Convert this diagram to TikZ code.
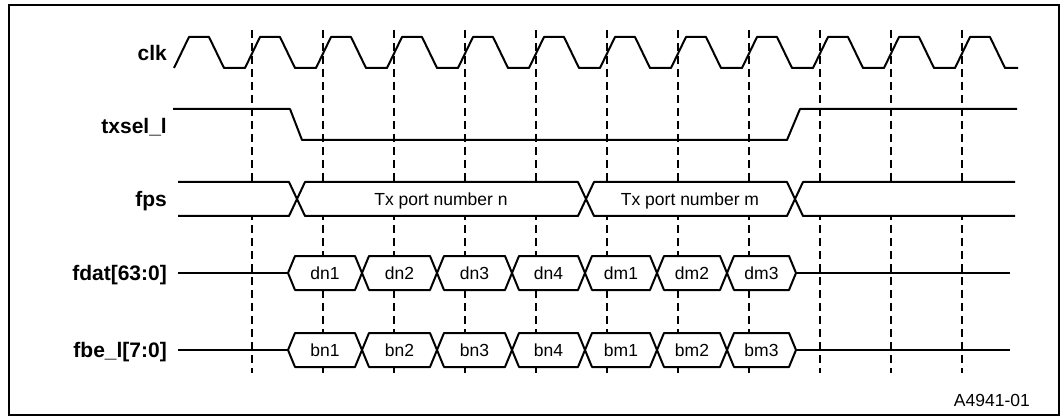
\documentclass[tikz,border=0pt]{standalone}
\usepackage{fontspec}
\setmainfont{Liberation Sans}
\begin{document}
\begin{tikzpicture}[x=1pt,y=-1pt,
  sig/.style={line width=2pt,line join=round},
  busseg/.style={line width=2pt,line join=round,fill=white},
  guide/.style={line width=1.2pt,dash pattern=on 8pt off 5pt},
  lbl/.style={anchor=base east,inner sep=0pt,font=\fontsize{21}{24}\selectfont\bfseries},
  bustxt/.style={anchor=base,inner sep=0pt,font=\fontsize{17.5}{20}\selectfont}]
\useasboundingbox (0,0) rectangle (1061,417);
% frame
\draw[line width=2pt] (9,5) rectangle (1059,415);
% dashed guide lines
\foreach \k in {0,...,10}{
  \draw[guide] ({252+71*\k},30) -- ({252+71*\k},373);
}
% labels
\node[lbl] (lclk) at (167,61) {clk};
\node[lbl] (ltx) at (167,134) {txsel\_l};
\node[lbl] (lfps) at (167,207) {fps};
\node[lbl] (lfdat) at (167,280) {fdat[63:0]};
\node[lbl] (lfbe) at (167,357) {fbe\_l[7:0]};
% clock
\draw[sig] (174,68) \foreach \k in {1,...,11}{ -- ++(15,-31) -- ++(20,0) -- ++(15,31) -- ++(21,0) }
  -- ++(15,-31) -- ++(20,0) -- ++(15,31) -- ++(13,0);
% txsel_l
\draw[sig] (173,109) -- (290,109) -- (302,140) -- (787,140) -- (800,109) -- (1017,109);
% fps bus
\fill[white] (178,182) -- (289,182) -- (297,199) -- (289,216) -- (178,216) -- cycle;
\draw[sig] (178,182) -- (289,182) -- (297,199) -- (289,216) -- (178,216);
\draw[busseg] (297,199) -- (305,182) -- (578,182) -- (586,199) -- (578,216) -- (305,216) -- cycle;
\draw[busseg] (586,199) -- (594,182) -- (787,182) -- (795,199) -- (787,216) -- (594,216) -- cycle;
\fill[white] (795,199) -- (803,182) -- (1015,182) -- (1015,216) -- (803,216) -- cycle;
\draw[sig] (1015,182) -- (803,182) -- (795,199) -- (803,216) -- (1015,216);
\node[bustxt] (tn) at (441,205.5) {Tx port number n};
\node[bustxt] (tm) at (690,205.5) {Tx port number m};
% fdat and fbe buses
\foreach \c/\p in {273/d,350/b}{
  \draw[sig] (178,\c) -- (288,\c);
  \draw[sig] (796,\c) -- (1010,\c);
  \foreach \a/\b/\t in {288/362/\p n1,362/437/\p n2,437/512/\p n3,512/585/\p n4,585/657/\p m1,657/727/\p m2,727/796/\p m3}{
    \draw[busseg] (\a,\c) -- ({\a+7},{\c-17}) -- ({\b-7},{\c-17}) -- (\b,\c) -- ({\b-7},{\c+17}) -- ({\a+7},{\c+17}) -- cycle;
    \node[bustxt] at ({(\a+\b)/2},{\c+6.5}) {\t};
  }
}
% figure id
\node[anchor=base east,inner sep=0pt,font=\fontsize{17.5}{20}\selectfont] (fid) at (1030,406) {A4941-01};
\end{tikzpicture}
\end{document}
